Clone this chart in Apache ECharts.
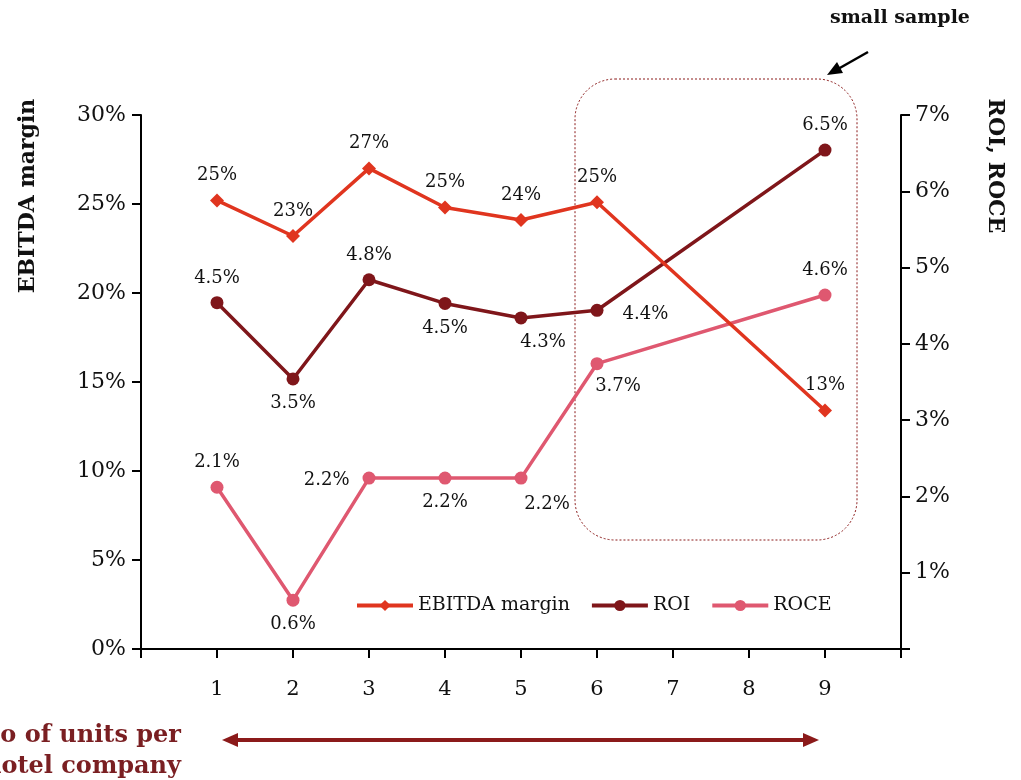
<!DOCTYPE html>
<html>
<head>
<meta charset="utf-8">
<style>
  html, body { margin: 0; padding: 0; background: #ffffff; }
  #chart { width: 1021px; height: 780px; }
</style>
<script src="https://cdn.jsdelivr.net/npm/echarts@6/dist/echarts.min.js"></script>
</head>
<body>
<div id="chart"></div>
<script>
// Number of units per hotel company (x positions)
const units = [1, 2, 3, 4, 5, 6, 9];
const xTickLabels = ['1', '2', '3', '4', '5', '6', '7', '8', '9'];

// EBITDA margin (%), left axis
const ebitda = [25.2, 23.2, 27.0, 24.8, 24.1, 25.1, 13.4];
// ROI and ROCE (%), right axis
const roi = [4.54, 3.54, 4.84, 4.53, 4.34, 4.44, 6.54];
const roce = [2.12, 0.64, 2.24, 2.24, 2.24, 3.74, 4.64];

// Label placement for each point
const ebitdaLabelPos = ['top', 'top', 'top', 'top', 'top', 'top', 'top'];
const ebitdaLabelOff = [[0, 0], [0, 0], [0, 0], [0, 0], [0, 0], [0, 0], [0, 0]];
const roiLabelPos = ['top', 'bottom', 'top', 'bottom', 'bottom', 'right', 'top'];
const roiLabelOff = [[0, 0], [0, 0], [0, 0], [0, 0], [22, 0], [10, 4], [0, 0]];
const roceLabelPos = ['top', 'bottom', 'left', 'bottom', 'bottom', 'bottom', 'top'];
const roceLabelOff = [[0, 0], [0, 0], [-4, 2], [0, 0], [26, 2], [21, -2], [0, 0]];

const FONT = 'DejaVu Serif';
const C_EBITDA = '#e0351f';
const C_ROI = '#7f161a';
const C_ROCE = '#df5870';
const C_ACCENT = '#8b1a1a';

function points(vals, pos, off) {
  return units.map((x, i) => ({
    value: [x, vals[i]],
    label: { position: pos[i], offset: off[i] }
  }));
}

function pctLabel(digits) {
  return p => p.value[1].toFixed(digits) + '%';
}

const chart = echarts.init(document.getElementById('chart'), null, { renderer: 'canvas' });

const labelBase = {
  show: true,
  fontFamily: FONT,
  fontSize: 18,
  color: '#111',
  distance: 9
};

const axisLabelBase = { fontFamily: FONT, fontSize: 22, color: '#111' };

chart.setOption({
  animation: false,
  backgroundColor: '#ffffff',
  textStyle: { fontFamily: FONT },
  grid: { left: 141, right: 120, top: 115, bottom: 131 },
  legend: {
    left: 350,
    top: 591,
    itemWidth: 56,
    itemHeight: 14,
    itemGap: 20,
    lineStyle: { width: 4 },
    textStyle: { fontFamily: FONT, fontSize: 19, color: '#111' },
    data: ['EBITDA margin', 'ROI', 'ROCE']
  },
  xAxis: {
    type: 'value',
    min: 0,
    max: 10,
    interval: 1,
    axisLine: { show: true, lineStyle: { color: '#000', width: 2 } },
    axisTick: { show: true, length: 9, lineStyle: { color: '#000', width: 2 } },
    splitLine: { show: false },
    axisLabel: Object.assign({}, axisLabelBase, {
      margin: 30,
      fontSize: 21,
      formatter: v => (v >= 1 && v <= 9 ? xTickLabels[v - 1] : '')
    })
  },
  yAxis: [
    {
      type: 'value',
      min: 0,
      max: 30,
      interval: 5,
      position: 'left',
      axisLine: { show: true, lineStyle: { color: '#000', width: 2 } },
      axisTick: { show: true, length: 9, lineStyle: { color: '#000', width: 2 } },
      splitLine: { show: false },
      axisLabel: Object.assign({}, axisLabelBase, {
        margin: 15,
        formatter: v => v + '%'
      })
    },
    {
      type: 'value',
      min: 0,
      max: 7,
      interval: 1,
      position: 'right',
      axisLine: { show: true, lineStyle: { color: '#000', width: 2 } },
      axisTick: { show: true, length: 9, lineStyle: { color: '#000', width: 2 } },
      splitLine: { show: false },
      axisLabel: Object.assign({}, axisLabelBase, {
        margin: 14,
        formatter: v => (v === 0 ? '' : v + '%')
      })
    }
  ],
  series: [
    {
      name: 'EBITDA margin',
      type: 'line',
      yAxisIndex: 0,
      data: points(ebitda, ebitdaLabelPos, ebitdaLabelOff),
      symbol: 'diamond',
      symbolSize: 14,
      itemStyle: { color: C_EBITDA },
      lineStyle: { color: C_EBITDA, width: 3.5 },
      label: Object.assign({}, labelBase, { formatter: pctLabel(0) }),
      z: 3
    },
    {
      name: 'ROI',
      type: 'line',
      yAxisIndex: 1,
      data: points(roi, roiLabelPos, roiLabelOff),
      symbol: 'circle',
      symbolSize: 13,
      itemStyle: { color: C_ROI },
      lineStyle: { color: C_ROI, width: 3.5 },
      label: Object.assign({}, labelBase, { formatter: pctLabel(1) }),
      z: 2
    },
    {
      name: 'ROCE',
      type: 'line',
      yAxisIndex: 1,
      data: points(roce, roceLabelPos, roceLabelOff),
      symbol: 'circle',
      symbolSize: 13,
      itemStyle: { color: C_ROCE },
      lineStyle: { color: C_ROCE, width: 3.5 },
      label: Object.assign({}, labelBase, { formatter: pctLabel(1) }),
      z: 2
    }
  ],
  graphic: [
    // axis titles
    {
      type: 'text',
      x: 28, y: 196,
      rotation: Math.PI / 2,
      style: {
        text: 'EBITDA margin',
        font: 'bold 22px "' + FONT + '"',
        fill: '#111',
        align: 'center',
        verticalAlign: 'middle'
      }
    },
    {
      type: 'text',
      x: 995, y: 166,
      rotation: -Math.PI / 2,
      style: {
        text: 'ROI, ROCE',
        font: 'bold 22px "' + FONT + '"',
        fill: '#111',
        align: 'center',
        verticalAlign: 'middle'
      }
    },
    // highlighted region for the largest companies
    {
      type: 'rect',
      shape: { x: 575, y: 79, width: 282, height: 461, r: 40 },
      style: { fill: 'none', stroke: C_ACCENT, lineWidth: 1, lineDash: [2, 2] },
      silent: true,
      z: 1
    },
    {
      type: 'text',
      x: 900, y: 18,
      style: {
        text: 'small sample',
        font: 'bold 19px "' + FONT + '"',
        fill: '#111',
        align: 'center',
        verticalAlign: 'middle'
      }
    },
    {
      type: 'line',
      shape: { x1: 868, y1: 52, x2: 838, y2: 69 },
      style: { stroke: '#000', lineWidth: 2.5 }
    },
    {
      type: 'polygon',
      shape: { points: [[827, 75], [837, 62], [843, 73]] },
      style: { fill: '#000' }
    },
    // direction of company size along the x axis
    {
      type: 'text',
      x: 181, y: 736,
      style: {
        text: 'No of units per',
        font: 'bold 24px "' + FONT + '"',
        fill: '#7a1f22',
        align: 'right',
        verticalAlign: 'middle'
      }
    },
    {
      type: 'text',
      x: 181, y: 767,
      style: {
        text: 'hotel company',
        font: 'bold 24px "' + FONT + '"',
        fill: '#7a1f22',
        align: 'right',
        verticalAlign: 'middle'
      }
    },
    {
      type: 'line',
      shape: { x1: 232, y1: 740, x2: 808, y2: 740 },
      style: { stroke: C_ACCENT, lineWidth: 4 }
    },
    {
      type: 'polygon',
      shape: { points: [[222, 740], [238, 733], [238, 747]] },
      style: { fill: C_ACCENT }
    },
    {
      type: 'polygon',
      shape: { points: [[819, 740], [803, 733], [803, 747]] },
      style: { fill: C_ACCENT }
    }
  ]
});
</script>
</body>
</html>
